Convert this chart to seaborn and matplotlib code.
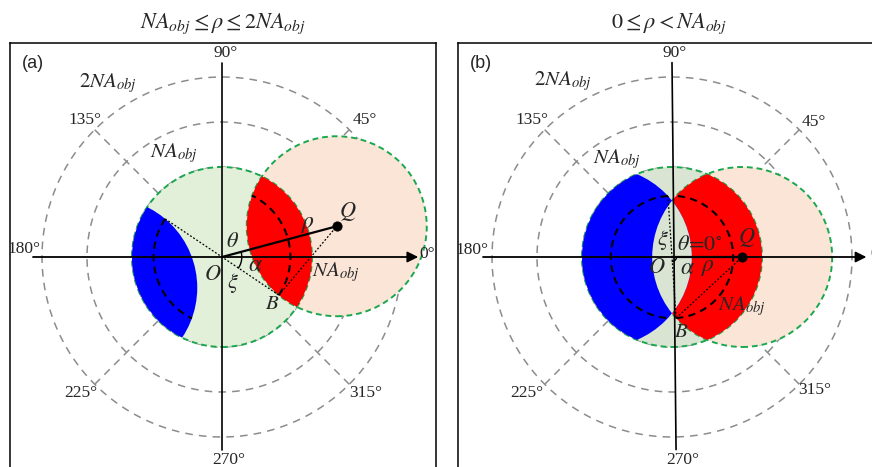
import numpy as np
import pandas as pd
import matplotlib
matplotlib.use("Agg")
import matplotlib.pyplot as plt
from matplotlib.patches import Circle
import seaborn as sns

# ---------------- data (NA_obj = 1 units) ----------------
panel_tags = ["(a)", "(b)"]
panel_titles = [r"$NA_{obj}\leq\rho\leq 2NA_{obj}$", r"$0\leq\rho<NA_{obj}$"]
NA = 1.0
rho_vals = [1.32, 0.78]        # |OQ|
theta_vals = [15.0, 0.0]       # polar angle of Q (deg)
r_vals = [0.76, 0.68]          # radius of dashed integration circle |OB|
grid_radii = [1.0, 1.5, 2.0]
spoke_angles = [45, 135, 225, 315]
angle_names = ["0°", "45°", "90°", "135°", "180°", "225°", "270°", "315°"]
theta_text = [r"$\theta$", r"$\theta\!=\!0^{\circ}$"]

# ---------------- style / layout ----------------
sns.set_theme(style="white")
plt.rcParams["mathtext.fontset"] = "stix"
plt.rcParams["font.family"] = ["Liberation Serif", "DejaVu Serif"]

W, H = 872, 467
S = 90.0                      # px per NA
fig = plt.figure(figsize=(W / 100, H / 100), dpi=100)

GREEN_EDGE = "#1aa84f"
GRAY = "#8c8c8c"
SALMON = "#fbe5d6"
GREENS = ["#e2efd9", "#dae4d2"]

layout = [
    dict(left=10, width=426, ox=222,
         ang=[(2.19, 0.03, "left"), (1.59, 1.52, "center"), (0.04, 2.27, "center"),
              (-1.52, 1.52, "center"), (-2.02, 0.09, "right"), (-1.57, -1.51, "center"),
              (0.08, -2.26, "center"), (1.60, -1.51, "center")],
         vline=((0.0, 2.16), (0.0, -2.14)), harrow=(-2.10, 2.18),
         lab=dict(O=(-0.10, -0.20), th=(0.12, 0.16), al=(0.37, -0.09), xi=(0.12, -0.29),
                  B=(0.56, -0.53), rho=(0.96, 0.36), Q=(1.40, 0.50), NA1=(1.27, -0.17),
                  NA2=(-0.53, 1.15), NA3=(-1.27, 1.93)),
         arc_r=0.22, title_x=223),
    dict(left=458, width=428, ox=672,
         ang=[(2.20, 0.03, "left"), (1.58, 1.50, "center"), (0.03, 2.27, "center"),
              (-1.56, 1.52, "center"), (-2.04, 0.08, "right"), (-1.61, -1.51, "center"),
              (0.12, -2.26, "center"), (1.59, -1.48, "center")],
         vline=((0.0, 2.16), (0.045, -2.14)), harrow=(-2.10, 2.16),
         lab=dict(O=(-0.17, -0.13), th=(0.31, 0.13), al=(0.17, -0.13), xi=(-0.10, 0.19),
                  B=(0.10, -0.84), rho=(0.40, -0.12), Q=(0.83, 0.22), NA1=(0.78, -0.55),
                  NA2=(-0.61, 1.09), NA3=(-1.21, 1.95)),
         arc_r=0.05, title_x=669),
]

top_px, bot_px, oy = 43, 471, 257


def arc_xy(r, a0, a1, n=200):
    t = np.radians(np.linspace(a0, a1, n))
    return r * np.cos(t), r * np.sin(t)


for i in range(2):
    L = layout[i]
    ax = fig.add_axes([L["left"] / W, (H - bot_px) / H, L["width"] / W, (bot_px - top_px) / H])
    ax.set_xlim((L["left"] - L["ox"]) / S, (L["left"] + L["width"] - L["ox"]) / S)
    ax.set_ylim(-(bot_px - oy) / S, (oy - top_px) / S)
    ax.set_xticks([]); ax.set_yticks([])
    for sp in ax.spines.values():
        sp.set_color("black"); sp.set_linewidth(1.1)
    ax.spines["bottom"].set_visible(False)
    ax.grid(False)

    rho, th, r = rho_vals[i], theta_vals[i], r_vals[i]
    Q = np.array([rho * np.cos(np.radians(th)), rho * np.sin(np.radians(th))])
    Qm = -Q

    # polar grid rings and spokes (seaborn lines)
    rows = []
    for k, gr in enumerate(grid_radii):
        x, y = arc_xy(gr, 0, 360, 361)
        rows += [dict(x=a, y=b, u=f"ring{k}") for a, b in zip(x, y)]
    for a in spoke_angles:
        t = np.radians(a)
        rows += [dict(x=rr * np.cos(t), y=rr * np.sin(t), u=f"sp{a}") for rr in (1.0, 2.0)]
    dfg = pd.DataFrame(rows)
    sns.lineplot(data=dfg, x="x", y="y", units="u", estimator=None, sort=False,
                 color=GRAY, lw=1.1, linestyle=(0, (5, 4)), ax=ax, legend=False, zorder=1)

    # pupil circles
    ax.add_patch(Circle(Q, NA, fc=SALMON, ec="none", zorder=2))
    ax.add_patch(Circle((0, 0), NA, fc=GREENS[i], ec="none", zorder=3))
    for c in [(0, 0), Q]:
        ax.add_patch(Circle(c, NA, fill=False, ec=GREEN_EDGE, lw=1.4,
                            linestyle=(0, (3, 2)), zorder=4))
    red = Circle(Q, NA, fc="#ff0000", ec="none", zorder=5)
    ax.add_patch(red); red.set_clip_path(Circle((0, 0), NA, transform=ax.transData))
    blue = Circle(Qm, NA, fc="#0000ff", ec="none", zorder=5)
    ax.add_patch(blue); blue.set_clip_path(Circle((0, 0), NA, transform=ax.transData))
    mid = Circle(Q, NA, fc=GREENS[i], ec="none", zorder=6)
    ax.add_patch(mid); mid.set_clip_path(Circle(Qm, NA, transform=ax.transData))

    # geometry of B
    cos_a = (r ** 2 + rho ** 2 - NA ** 2) / (2 * r * rho)
    alpha = np.degrees(np.arccos(np.clip(cos_a, -1, 1)))
    bang = th - alpha
    B = r * np.array([np.cos(np.radians(bang)), np.sin(np.radians(bang))])
    Bop = -B

    # dashed integration arcs
    for a0, a1 in [(th - alpha, th + alpha), (180 + th - alpha, 180 + th + alpha)]:
        x, y = arc_xy(r, a0, a1)
        ax.plot(x, y, color="black", lw=1.5, linestyle=(0, (3.5, 2.5)), zorder=7)

    # dotted construction lines
    ax.plot([Bop[0], B[0]], [Bop[1], B[1]], color="black", lw=0.9,
            linestyle=(0, (1.5, 1.5)), zorder=7)
    ax.plot([B[0], Q[0]], [B[1], Q[1]], color="black", lw=0.9,
            linestyle=(0, (1.5, 1.5)), zorder=7)

    # axes lines
    (vx0, vy0), (vx1, vy1) = L["vline"]
    ax.plot([vx0, vx1], [vy0, vy1], color="black", lw=1.2, zorder=8)
    hx0, hx1 = L["harrow"]
    ax.annotate("", xy=(hx1, 0), xytext=(hx0, 0),
                arrowprops=dict(arrowstyle="-|>", color="black", lw=1.3,
                                mutation_scale=16, shrinkA=0, shrinkB=0), zorder=8)

    # OQ and alpha arc
    ax.plot([0, Q[0]], [0, Q[1]], color="black", lw=1.6, zorder=8)
    x, y = arc_xy(L["arc_r"], bang, th)
    ax.plot(x, y, color="black", lw=1.0, zorder=8)
    sns.scatterplot(x=[Q[0]], y=[Q[1]], s=45, color="black", edgecolor="black",
                    ax=ax, zorder=9, legend=False)

    # angle labels
    for name, (x, y, ha) in zip(angle_names, L["ang"]):
        ax.text(x, y, name, fontsize=12.5, ha=ha, va="center", zorder=10)

    lb = L["lab"]
    tk = dict(ha="center", va="center", zorder=10)
    ax.text(*lb["O"], r"$O$", fontsize=16, **tk)
    ax.text(*lb["th"], theta_text[i], fontsize=16, **tk)
    ax.text(*lb["al"], r"$\alpha$", fontsize=17, **tk)
    ax.text(*lb["xi"], r"$\xi$", fontsize=16, **tk)
    ax.text(*lb["B"], r"$B$", fontsize=15, **tk)
    ax.text(*lb["rho"], r"$\rho$", fontsize=17, **tk)
    ax.text(*lb["Q"], r"$Q$", fontsize=16, **tk)
    ax.text(*lb["NA1"], r"$NA_{obj}$", fontsize=15, **tk)
    ax.text(*lb["NA2"], r"$NA_{obj}$", fontsize=15, **tk)
    ax.text(*lb["NA3"], r"$2NA_{obj}$", fontsize=15, **tk)

    ax.text(0.028, 0.953, panel_tags[i], transform=ax.transAxes, fontsize=13,
            family=["Liberation Sans", "DejaVu Sans"], ha="left", va="center", zorder=10)

    fig.text(L["title_x"] / W, 1 - 28 / H, panel_titles[i], fontsize=16,
             ha="center", va="baseline")

fig.savefig("out.png", dpi=100)
